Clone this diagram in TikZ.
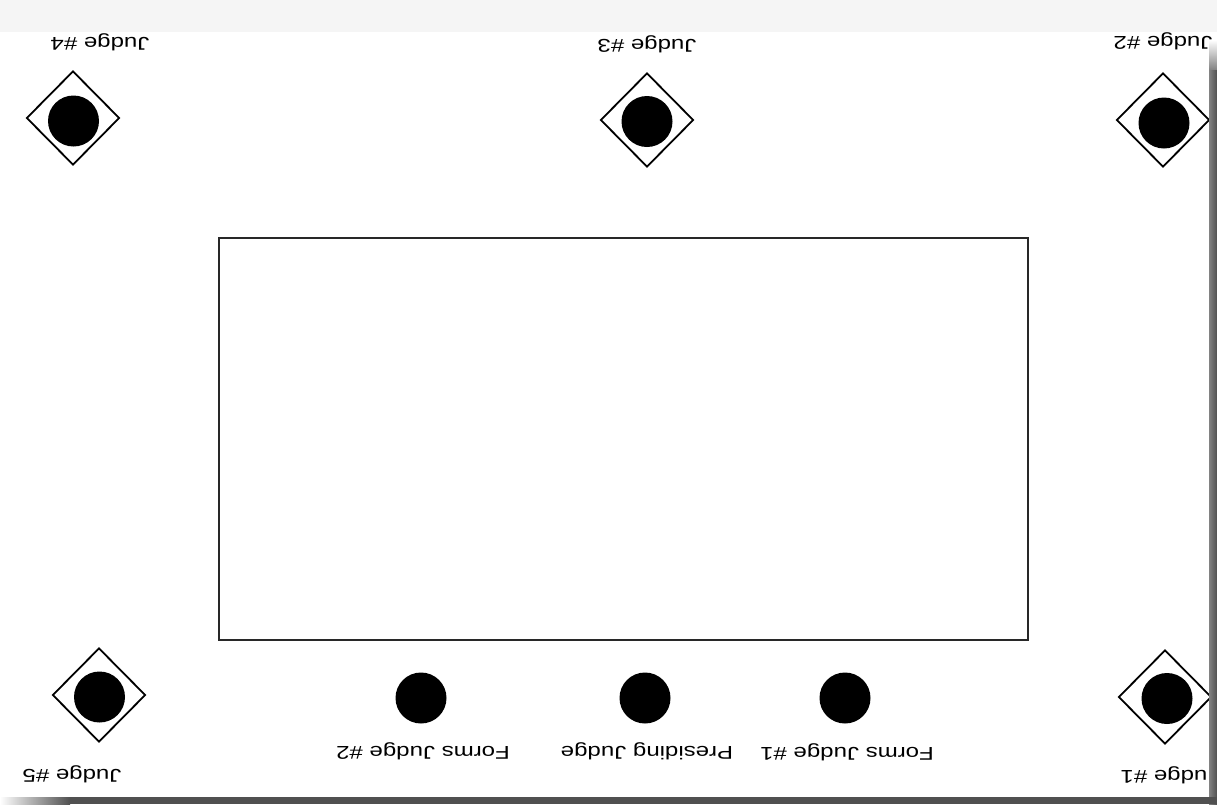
\documentclass[tikz,border=0pt]{standalone}
\usepackage{fontspec}
\setmainfont{Liberation Sans}
\usetikzlibrary{shapes.geometric}
\definecolor{bandgray}{RGB}{245,245,245}
\definecolor{shadowdark}{RGB}{80,80,80}
\definecolor{shadowmid}{RGB}{130,130,130}
\definecolor{linegray}{RGB}{40,40,40}
\newcommand{\lbl}[1]{\scalebox{1.3}[1]{#1}}
\tikzset{
  judgediamond/.style={draw=black, line width=1.8pt, shape=diamond, aspect=1, inner sep=0pt, minimum width=93pt, minimum height=94pt},
  judgedot/.style={fill=black, circle, inner sep=0pt, minimum size=51pt},
  judgelabel/.style={rotate=180, inner sep=0pt, font=\fontsize{18.5}{20}\selectfont, text=black},
}
\begin{document}
\begin{tikzpicture}[x=1pt,y=-1pt]
\useasboundingbox (0,0) rectangle (1217,804);
\fill[white] (0,0) rectangle (1217,804);
% top light band
\fill[bandgray] (0,0) rectangle (1217,32);
% arena rectangle
\node[draw=linegray, line width=2pt, minimum width=809pt, minimum height=402pt, inner sep=0pt] (ring) at (623.5,439) {};
% corner judges
\node[judgediamond] (j4d) at (73,118) {};
\node[judgedot] (j4c) at (73.5,121) {};
\node[judgelabel] (j4l) at (100,42) {\lbl{Judge \#4}};

\node[judgediamond] (j3d) at (647,120) {};
\node[judgedot] (j3c) at (647,121.5) {};
\node[judgelabel] (j3l) at (647,44) {\lbl{Judge \#3}};

\node[judgediamond] (j2d) at (1163,120) {};
\node[judgedot] (j2c) at (1164,123) {};
\node[judgelabel] (j2l) at (1163,41) {\lbl{Judge \#2}};

\node[judgediamond] (j1d) at (1165,697) {};
\node[judgedot] (j1c) at (1167,698.5) {};
\node[judgelabel] (j1l) at (1170,775) {\lbl{Judge \#1}};

\node[judgediamond] (j5d) at (99,695) {};
\node[judgedot] (j5c) at (99.5,697) {};
\node[judgelabel] (j5l) at (72,774) {\lbl{Judge \#5}};

% table judges
\node[judgedot] (f2c) at (421,698) {};
\node[judgelabel] (f2l) at (423,751) {\lbl{Forms Judge \#2}};
\node[judgedot] (pc) at (645,698) {};
\node[judgelabel] (pl) at (647,751) {\lbl{Presiding Judge}};
\node[judgedot] (f1c) at (845,698) {};
\node[judgelabel] (f1l) at (847,752) {\lbl{Forms Judge \#1}};

% shadows
\shade[top color=white, bottom color=shadowmid] (1209,40) rectangle (1217,70);
\shade[left color=shadowmid, right color=shadowdark] (1209,70) rectangle (1217,804);
\shade[left color=white, right color=shadowdark] (0,797) rectangle (70,804);
\fill[shadowdark] (70,797) rectangle (1217,804);
\end{tikzpicture}
\end{document}
